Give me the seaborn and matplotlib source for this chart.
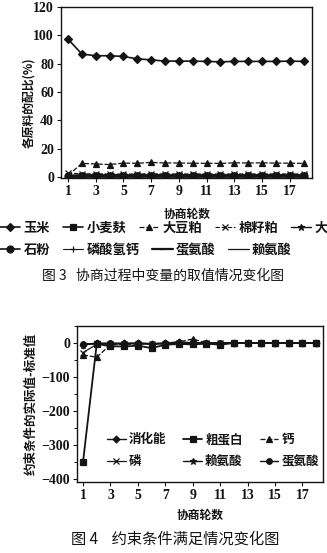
import matplotlib
matplotlib.use("Agg")
import matplotlib.pyplot as plt
import seaborn as sns
import pandas as pd
from matplotlib.ticker import MultipleLocator, FixedLocator
from matplotlib.font_manager import FontProperties

# 协商轮数
rounds = list(range(1, 19))

# 图3: 各原料的配比 (%)
corn = [97.4, 86.8, 85.6, 85.6, 85.1, 83.4, 82.7, 81.8, 81.8, 81.8, 81.6, 81.3, 81.6, 81.6, 81.6, 81.6, 81.8, 81.6]
wheat_bran = [0.2, 0.6, 0.5, 0.6, 0.5, 0.6, 0.7, 0.6, 0.6, 0.5, 0.6, 0.6, 0.6, 0.6, 0.6, 0.6, 0.6, 0.6]
soybean_meal = [1.0, 9.6, 9.2, 8.8, 9.8, 9.7, 10.3, 9.9, 9.9, 9.7, 9.7, 9.6, 10.0, 9.9, 10.0, 9.8, 9.8, 9.6]
cottonseed_meal = [2.8, 2.3, 2.3, 2.2, 2.1, 2.2, 2.3, 2.2, 2.2, 2.2, 2.2, 2.1, 2.2, 2.2, 2.2, 2.2, 2.2, 2.2]
da_item = [0.4, 1.2, 1.3, 1.2, 1.3, 1.2, 1.3, 1.3, 1.2, 1.3, 1.3, 1.2, 1.3, 1.3, 1.3, 1.3, 1.3, 1.3]
limestone = [0.5, 0.9, 1.0, 1.0, 0.9, 1.0, 1.0, 0.9, 1.0, 1.0, 1.0, 0.9, 1.0, 1.0, 1.0, 1.0, 1.0, 1.0]
dcp = [1.4, 1.6, 1.6, 1.7, 1.6, 1.6, 1.7, 1.6, 1.6, 1.6, 1.7, 1.6, 1.6, 1.6, 1.6, 1.6, 1.6, 1.6]
met = [0.1, 0.2, 0.2, 0.2, 0.2, 0.2, 0.2, 0.2, 0.2, 0.2, 0.2, 0.2, 0.2, 0.2, 0.2, 0.2, 0.2, 0.2]
lys = [0.2, 0.3, 0.3, 0.3, 0.3, 0.3, 0.3, 0.3, 0.3, 0.3, 0.3, 0.3, 0.3, 0.3, 0.3, 0.3, 0.3, 0.3]
ingredient_names = ["玉米", "小麦麸", "大豆粕", "棉籽粕", "大", "石粉", "磷酸氢钙", "蛋氨酸", "赖氨酸"]
ingredient_values = [corn, wheat_bran, soybean_meal, cottonseed_meal, da_item, limestone, dcp, met, lys]

# 图4: 约束条件的实际值-标准值
energy = [-5, -1, -2, -1, -1, -2, -1, 4, 0, -1, -2, 0, 0, 0, 0, 0, 0, 0]
crude_protein = [-350, -2, -10, -10, -8, -15, -5, -3, -4, -2, -5, 0, 0, 0, 0, 0, 0, 0]
calcium = [-35, -42, -5, -4, -3, -3, -2, 3, 12, 0, -1, 0, 0, 0, 0, 0, 0, 0]
phosphorus = [-28, -4, -3, -2, -2, -3, -2, -1, -1, 0, 0, 0, 0, 0, 0, 0, 0, 0]
lysine_c = [-5, -2, -1, -1, -1, -2, -1, -1, 0, 0, 0, 0, 0, 0, 0, 0, 0, 0]
methionine_c = [-3, -1, -1, -2, -1, -2, -1, -1, 0, 0, -1, 0, 0, 0, 0, 0, 0, 0]
constraint_names = ["消化能", "粗蛋白", "钙", "磷", "赖氨酸", "蛋氨酸"]
constraint_values = [energy, crude_protein, calcium, phosphorus, lysine_c, methionine_c]

sns.set_theme(style="ticks")
plt.rcParams["font.family"] = ["Noto Sans CJK SC", "DejaVu Sans"]
plt.rcParams["axes.unicode_minus"] = True

INK = "#141414"
num_font = dict(family=["Liberation Serif", "DejaVu Serif"], weight="bold", size=10)

# line / marker styles for each series
ingr_styles = [
    dict(marker="D", markersize=4, linestyle="-", linewidth=1.2),
    dict(marker="s", markersize=4, linestyle="-", linewidth=1.2),
    dict(marker="^", markersize=4, linestyle=(0, (4, 1.5)), linewidth=0.9),
    dict(marker="x", markersize=4, linestyle=(0, (4, 1.5)), linewidth=0.8),
    dict(marker="*", markersize=5, linestyle="-", linewidth=1.0),
    dict(marker="o", markersize=5, linestyle="-", linewidth=1.2),
    dict(marker="+", markersize=5, linestyle="-", linewidth=0.8),
    dict(marker="_", markersize=5, linestyle="-", linewidth=1.6),
    dict(marker=None, linestyle="-", linewidth=0.9),
]
cons_styles = [
    dict(marker="D", markersize=3.5, linestyle="-", linewidth=1.0),
    dict(marker="s", markersize=4, linestyle="-", linewidth=1.3),
    dict(marker="^", markersize=4, linestyle=(0, (4, 1.5)), linewidth=0.9),
    dict(marker="x", markersize=4, linestyle="-", linewidth=0.9),
    dict(marker="*", markersize=5, linestyle="-", linewidth=1.0),
    dict(marker="o", markersize=4, linestyle="-", linewidth=1.0),
]

fig = plt.figure(figsize=(3.27, 5.53), dpi=100)
W, H = 327.0, 553.0


def px_axes(left, top, right, bottom):
    return fig.add_axes([left / W, 1 - bottom / H, (right - left) / W, (bottom - top) / H])


def style_axes(ax):
    for s in ax.spines.values():
        s.set_visible(True)
        s.set_color(INK)
        s.set_linewidth(1.0)
    ax.tick_params(axis="both", direction="out", length=3, width=0.8, color=INK, pad=2)
    for lab in ax.get_xticklabels() + ax.get_yticklabels():
        lab.set_fontproperties(FontProperties(**num_font))
        lab.set_color(INK)


# ---------- 图3 ----------
ax1 = px_axes(61, 7, 312, 178)
for name, vals, st in zip(ingredient_names, ingredient_values, ingr_styles):
    df = pd.DataFrame({"round": rounds, "value": vals})
    sns.lineplot(data=df, x="round", y="value", ax=ax1, color=INK, label=name,
                 markeredgecolor=INK, markerfacecolor=INK, markeredgewidth=0.9, **st)
ax1.set_xlim(0.5, 18.6)
ax1.set_ylim(-0.7, 120)
ax1.xaxis.set_major_locator(FixedLocator(list(range(1, 18, 2))))
ax1.yaxis.set_major_locator(MultipleLocator(20))
ax1.set_xlabel("协商轮数", fontsize=8.5, fontweight="bold", color=INK, labelpad=7)
ax1.set_ylabel("各原料的配比(%)", fontsize=8.5, fontweight="bold", color=INK)
ax1.yaxis.set_label_coords((35 - 61) / 251, (178 - 103) / 171)
style_axes(ax1)
handles1, labels1 = ax1.get_legend_handles_labels()
ax1.get_legend().remove()

leg_kw = dict(frameon=False, fontsize=9.5, handlelength=1.55, handletextpad=0.25,
              columnspacing=0.95, borderpad=0, borderaxespad=0, loc="center left",
              labelcolor=INK)
leg_a = fig.legend(handles1[:5], labels1[:5], ncol=5, bbox_to_anchor=(0.0, 1 - 228 / H), **leg_kw)
leg_b = fig.legend(handles1[5:], labels1[5:], ncol=4, bbox_to_anchor=(0.0, 1 - 250 / H), **leg_kw)
for leg in (leg_a, leg_b):
    for t in leg.get_texts():
        t.set_fontweight("bold")

fig.text(163 / W, 1 - 276 / H, "图 3   协商过程中变量的取值情况变化图", ha="center", va="center",
         fontsize=10, color=INK)

# ---------- 图4 ----------
ax2 = px_axes(77, 326, 323, 482)
for name, vals, st in zip(constraint_names, constraint_values, cons_styles):
    df = pd.DataFrame({"round": rounds, "value": vals})
    sns.lineplot(data=df, x="round", y="value", ax=ax2, color=INK, label=name,
                 markeredgecolor=INK, markerfacecolor=INK, markeredgewidth=0.9, **st)
ax2.set_xlim(0.56, 18.5)
ax2.set_ylim(-409, 50)
ax2.xaxis.set_major_locator(FixedLocator(list(range(1, 18, 2))))
ax2.yaxis.set_major_locator(MultipleLocator(100))
ax2.yaxis.set_minor_locator(MultipleLocator(50))
ax2.tick_params(axis="y", which="minor", direction="out", length=2, width=0.7, color=INK)
ax2.set_xlabel("协商轮数", fontsize=8.5, fontweight="bold", color=INK, labelpad=5)
ax2.set_ylabel("约束条件的实际值-标准值", fontsize=9, fontweight="bold", color=INK, labelpad=3)
style_axes(ax2)
handles2, labels2 = ax2.get_legend_handles_labels()
ax2.get_legend().remove()
# legend is filled column by column, so interleave to read row by row
order = [0, 3, 1, 4, 2, 5]
leg_c = ax2.legend([handles2[i] for i in order], [labels2[i] for i in order], ncol=3,
                   frameon=False, fontsize=9, handlelength=1.5, handletextpad=0.25,
                   columnspacing=1.35, borderpad=0, borderaxespad=0,
                   loc="center left", bbox_to_anchor=((107 - 77) / 246, (482 - 450.5) / 156),
                   labelspacing=0.7, labelcolor=INK)
for t in leg_c.get_texts():
    t.set_fontweight("bold")

fig.text(175 / W, 1 - 539 / H, "图 4    约束条件满足情况变化图", ha="center", va="center",
         fontsize=11, color=INK)

fig.savefig("out.png", dpi=100, facecolor="white")
